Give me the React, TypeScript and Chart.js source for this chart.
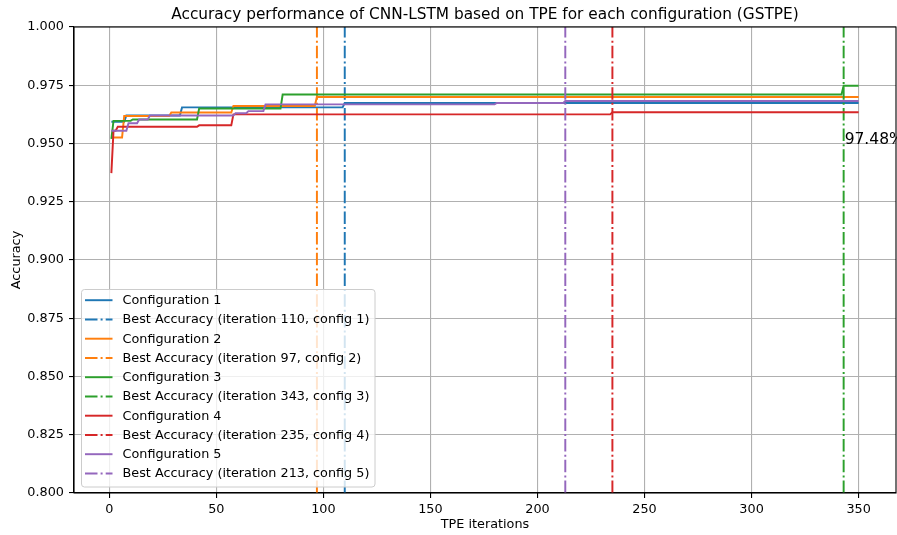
import { useEffect, useRef } from "react";
import { Chart, registerables } from "chart.js";

Chart.register(...registerables);

// ---------------- data ----------------
const configNames = ["Configuration 1", "Configuration 2", "Configuration 3", "Configuration 4", "Configuration 5"];
const colors = ["#1f77b4", "#ff7f0e", "#2ca02c", "#d62728", "#9467bd"];

// iteration at which the best-so-far accuracy changes, and the new value
const config1Iters = [1, 8, 34, 110];
const config1Acc = [0.9593, 0.962, 0.9655, 0.9674];
const config2Iters = [1, 7, 29, 58, 97];
const config2Acc = [0.9526, 0.9618, 0.9633, 0.9661, 0.97];
const config3Iters = [1, 2, 11, 42, 81, 343];
const config3Acc = [0.952, 0.9597, 0.9603, 0.965, 0.971, 0.9748];
const config4Iters = [1, 2, 4, 42, 58, 235];
const config4Acc = [0.9373, 0.9555, 0.9572, 0.9578, 0.9625, 0.9634];
const config5Iters = [1, 9, 14, 19, 59, 65, 73, 181, 213];
const config5Acc = [0.9555, 0.9587, 0.9603, 0.962, 0.963, 0.9639, 0.9668, 0.9674, 0.9682];

const lastIter = 350;
const bestIters = [110, 97, 343, 235, 213];

const xTicks = [0, 50, 100, 150, 200, 250, 300, 350];
const yTicks = [0.8, 0.825, 0.85, 0.875, 0.9, 0.925, 0.95, 0.975, 1.0];
const xMin = -16.45;
const xMax = 367.45;
const yMin = 0.8;
const yMax = 1.0;

const titleText = "Accuracy performance of CNN-LSTM based on TPE for each configuration (GSTPE)";
const xLabel = "TPE iterations";
const yLabel = "Accuracy";
const annotationText = "97.48%";
const annotationX = 343;
const annotationY = 0.95;

// ---------------- helpers ----------------
const FONT = '"DejaVu Sans", sans-serif';
const FS = 12.8;
const LW = 1.95;
const DASHDOT = [12.5, 3.1, 2.0, 3.1];

function buildSteps(iters: number[], acc: number[]) {
  const pts: { x: number; y: number }[] = [];
  for (let i = 0; i < iters.length; i++) {
    if (i > 0) pts.push({ x: iters[i] - 1, y: acc[i - 1] });
    pts.push({ x: iters[i], y: acc[i] });
  }
  pts.push({ x: lastIter, y: acc[acc.length - 1] });
  return pts;
}

const allIters = [config1Iters, config2Iters, config3Iters, config4Iters, config5Iters];
const allAcc = [config1Acc, config2Acc, config3Acc, config4Acc, config5Acc];

const legendLabels: string[] = [];
configNames.forEach((n, i) => {
  legendLabels.push(n);
  legendLabels.push(`Best Accuracy (iteration ${bestIters[i]}, config ${i + 1})`);
});

const overlayPlugin = {
  id: "overlay",
  afterDatasetsDraw(chart: any) {
    const { ctx, chartArea: a, scales } = chart;
    ctx.save();
    // annotation text
    ctx.font = `15.5px ${FONT}`;
    ctx.fillStyle = "#000";
    ctx.textAlign = "left";
    ctx.textBaseline = "alphabetic";
    ctx.fillText(annotationText, scales.x.getPixelForValue(annotationX) + 1, scales.y.getPixelForValue(annotationY));

    // frame (spines)
    ctx.strokeStyle = "#000";
    ctx.lineWidth = 1.1;
    ctx.setLineDash([]);
    ctx.strokeRect(a.left, a.top, a.right - a.left, a.bottom - a.top);

    // legend
    const bx = 81.5, by = 289.5, bw = 293.5, bh = 197.5, r = 3;
    ctx.beginPath();
    ctx.moveTo(bx + r, by);
    ctx.lineTo(bx + bw - r, by);
    ctx.quadraticCurveTo(bx + bw, by, bx + bw, by + r);
    ctx.lineTo(bx + bw, by + bh - r);
    ctx.quadraticCurveTo(bx + bw, by + bh, bx + bw - r, by + bh);
    ctx.lineTo(bx + r, by + bh);
    ctx.quadraticCurveTo(bx, by + bh, bx, by + bh - r);
    ctx.lineTo(bx, by + r);
    ctx.quadraticCurveTo(bx, by, bx + r, by);
    ctx.closePath();
    ctx.fillStyle = "rgba(255,255,255,0.8)";
    ctx.fill();
    ctx.strokeStyle = "#cccccc";
    ctx.lineWidth = 1;
    ctx.stroke();

    ctx.font = `${FS}px ${FONT}`;
    ctx.textBaseline = "middle";
    ctx.textAlign = "left";
    legendLabels.forEach((lab, i) => {
      const cy = 300.2 + i * 19.25;
      ctx.beginPath();
      ctx.strokeStyle = colors[Math.floor(i / 2)];
      ctx.lineWidth = LW;
      ctx.setLineDash(i % 2 === 1 ? DASHDOT : []);
      ctx.moveTo(85, cy);
      ctx.lineTo(112.5, cy);
      ctx.stroke();
      ctx.setLineDash([]);
      ctx.fillStyle = "#000";
      ctx.fillText(lab, 122.5, cy + 0.5);
    });
    ctx.restore();
  },
  afterDraw(chart: any) {
    const { ctx, chartArea: a } = chart;
    ctx.save();
    ctx.fillStyle = "#000";
    ctx.textAlign = "center";
    ctx.textBaseline = "alphabetic";
    ctx.font = `15.35px ${FONT}`;
    ctx.fillText(titleText, (a.left + a.right) / 2, 19);
    ctx.font = `${FS}px ${FONT}`;
    ctx.textBaseline = "middle";
    ctx.fillText(xLabel, (a.left + a.right) / 2, 525);
    ctx.translate(17, (a.top + a.bottom) / 2);
    ctx.rotate(-Math.PI / 2);
    ctx.fillText(yLabel, 0, 0);
    ctx.restore();
  },
};

export default function App() {
  const ref = useRef<HTMLCanvasElement>(null);
  useEffect(() => {
    if (!ref.current) return;
    const datasets: any[] = [];
    for (let i = 0; i < 5; i++) {
      datasets.push({
        label: configNames[i],
        data: buildSteps(allIters[i], allAcc[i]),
        borderColor: colors[i],
        borderWidth: LW,
        pointRadius: 0,
        tension: 0,
        fill: false,
        order: -(2 * i),
      });
      datasets.push({
        label: `Best Accuracy (iteration ${bestIters[i]}, config ${i + 1})`,
        data: [
          { x: bestIters[i], y: yMin },
          { x: bestIters[i], y: yMax },
        ],
        borderColor: colors[i],
        borderWidth: LW,
        borderDash: DASHDOT,
        pointRadius: 0,
        fill: false,
        order: -(2 * i + 1),
      });
    }
    const chart = new Chart(ref.current, {
      type: "line",
      data: { datasets },
      options: {
        animation: false,
        responsive: false,
        devicePixelRatio: 1,
        layout: { padding: { top: 27, right: 1, left: 0, bottom: 0 } },
        plugins: { legend: { display: false }, title: { display: false }, tooltip: { enabled: false } },
        scales: {
          x: {
            type: "linear",
            min: xMin,
            max: xMax,
            afterBuildTicks: (s: any) => {
              s.ticks = xTicks.map((v) => ({ value: v }));
            },
            afterFit: (s: any) => {
              s.height = 42;
            },
            ticks: {
              font: { family: FONT, size: FS },
              color: "#000",
              padding: 4,
              maxRotation: 0,
              autoSkip: false,
              callback: (v: any) => String(v),
            },
            grid: { color: "#b0b0b0", lineWidth: 1.1, tickColor: "#000", tickLength: 5, tickWidth: 1.1 },
            border: { color: "#000", width: 1.1 },
          },
          y: {
            type: "linear",
            min: yMin,
            max: yMax,
            afterBuildTicks: (s: any) => {
              s.ticks = yTicks.map((v) => ({ value: v }));
            },
            afterFit: (s: any) => {
              s.width = 74;
            },
            ticks: {
              font: { family: FONT, size: FS },
              color: "#000",
              padding: 5,
              autoSkip: false,
              callback: (v: any) => Number(v).toFixed(3),
            },
            grid: { color: "#b0b0b0", lineWidth: 1.1, tickColor: "#000", tickLength: 5, tickWidth: 1.1 },
            border: { color: "#000", width: 1.1 },
          },
        },
      },
      plugins: [overlayPlugin],
    } as any);
    return () => chart.destroy();
  }, []);
  return (
    <div style={{ position: "fixed", left: 0, top: 0, width: 897, height: 535, background: "#fff" }}>
      <canvas ref={ref} width={897} height={535} style={{ width: 897, height: 535, display: "block" }} />
    </div>
  );
}
